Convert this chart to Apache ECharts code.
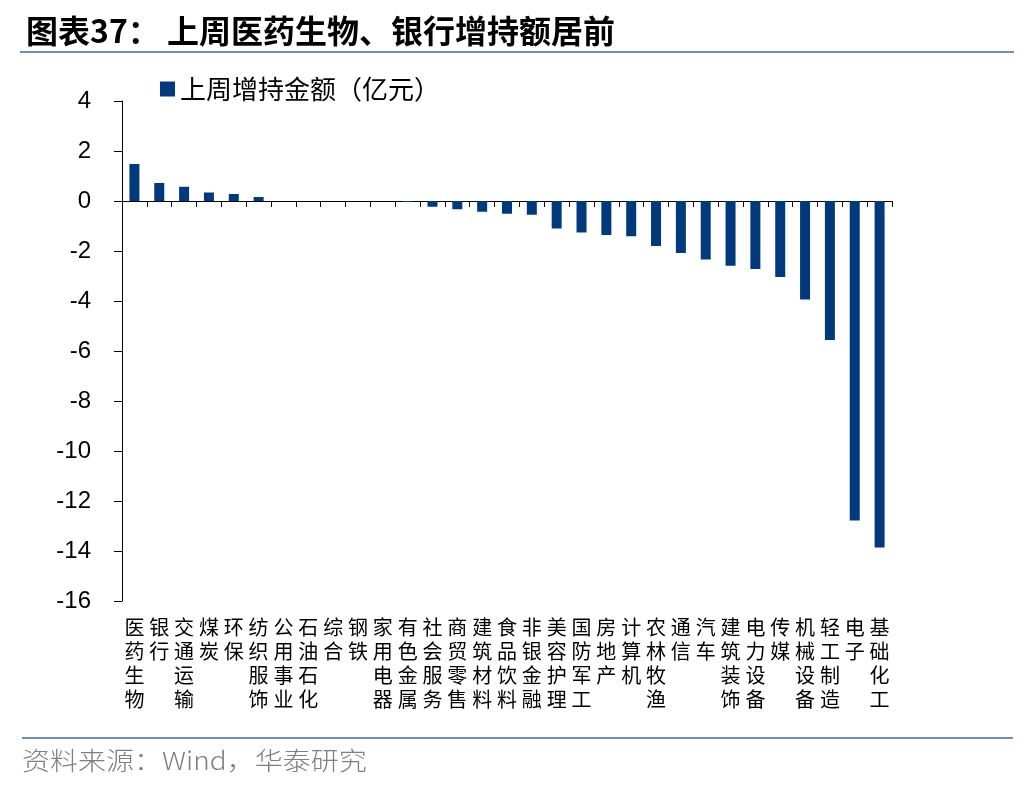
<!DOCTYPE html>
<html>
<head>
<meta charset="utf-8">
<style>
html,body{margin:0;padding:0;background:#fff;}
#chart{width:1036px;height:792px;}
</style>
<script src="https://cdn.jsdelivr.net/npm/echarts@6/dist/echarts.min.js"></script>
</head>
<body>
<div id="chart"></div>
<script>
const categories = ['医药生物','银行','交通运输','煤炭','环保','纺织服饰','公用事业','石油石化','综合','钢铁','家用电器','有色金属','社会服务','商贸零售','建筑材料','食品饮料','非银金融','美容护理','国防军工','房地产','计算机','农林牧渔','通信','汽车','建筑装饰','电力设备','传媒','机械设备','轻工制造','电子','基础化工'];
const values = [1.48, 0.72, 0.57, 0.34, 0.28, 0.16, 0, 0, 0, 0, 0, -0.04, -0.23, -0.33, -0.43, -0.51, -0.55, -1.10, -1.26, -1.36, -1.41, -1.80, -2.08, -2.34, -2.59, -2.72, -3.04, -3.94, -5.56, -12.78, -13.86];
const seriesName = '上周增持金额（亿元）';
const yMin = -16, yMax = 4, yStep = 2;

const chart = echarts.init(document.getElementById('chart'));
const cjk = '"Noto Sans CJK SC", sans-serif';
const num = '"Liberation Sans", Arial, sans-serif';
chart.setOption({
  backgroundColor: '#fff',
  animation: false,
  title: {
    text: '图表37： 上周医药生物、银行增持额居前',
    left: 21, top: 10,
    textStyle: {fontFamily: cjk, fontSize: 32, fontWeight: 'bold', color: '#000'}
  },
  legend: {
    data: [seriesName],
    left: 155, top: 71,
    icon: 'rect', itemWidth: 15, itemHeight: 15, itemGap: 8,
    textStyle: {fontFamily: cjk, fontSize: 26, color: '#000'}
  },
  graphic: [
    {type: 'line', shape: {x1: 20, y1: 52, x2: 1014, y2: 52}, style: {stroke: '#6f8dba', lineWidth: 2}},
    {type: 'line', shape: {x1: 22, y1: 738, x2: 1013, y2: 738}, style: {stroke: '#6f8dba', lineWidth: 2}},
    {type: 'text', x: 22, y: 748, scaleX: 1.12, style: {text: '资料来源：Wind，华泰研究', fontFamily: cjk, fontSize: 25, fontWeight: 300, fill: '#7f7f7f'}}
  ],
  grid: {left: 122, right: 144, top: 101, bottom: 191, containLabel: false},
  xAxis: [
    {
      type: 'category', data: categories, position: 'bottom',
      axisLine: {onZero: true, lineStyle: {color: '#000', width: 1}},
      axisTick: {show: true, length: 6, interval: 0, lineStyle: {color: '#000'}},
      axisLabel: {show: false}
    },
    {
      type: 'category', data: categories, position: 'bottom',
      axisLine: {show: false}, axisTick: {show: false},
      axisLabel: {
        interval: 0, margin: 14,
        fontFamily: cjk, fontSize: 20, lineHeight: 24, color: '#000',
        verticalAlign: 'top',
        formatter: v => v.split('').join('\n')
      }
    }
  ],
  yAxis: {
    type: 'value', min: yMin, max: yMax, interval: yStep,
    axisLine: {show: true, lineStyle: {color: '#000', width: 1}},
    axisTick: {show: true, length: 8, lineStyle: {color: '#000'}},
    splitLine: {show: false},
    axisLabel: {margin: 31, fontFamily: num, fontSize: 24, color: '#000'}
  },
  series: [{
    name: seriesName, type: 'bar', xAxisIndex: 0, data: values,
    barWidth: 10,
    itemStyle: {color: '#003a7c'}
  }]
});
</script>
</body>
</html>
